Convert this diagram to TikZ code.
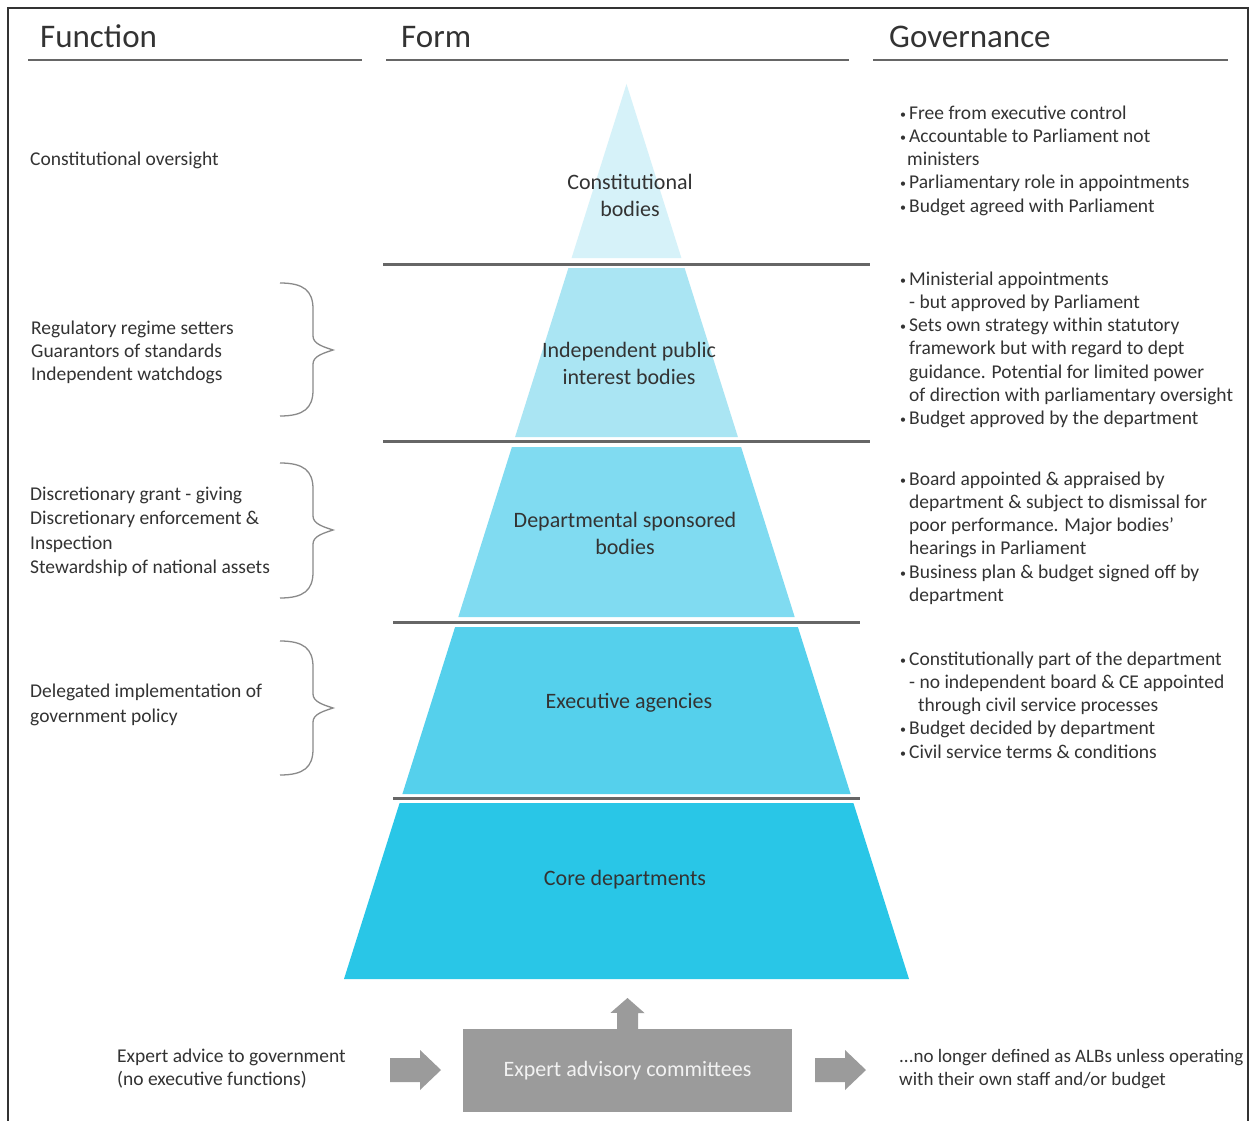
\documentclass[tikz,border=0pt]{standalone}
\usepackage{fontspec}
\setmainfont{Carlito}
\definecolor{txt}{HTML}{333333}
\definecolor{rulec}{HTML}{666666}
\definecolor{frame}{HTML}{333333}
\definecolor{lay1}{HTML}{D6F2F9}
\definecolor{lay2}{HTML}{AAE5F3}
\definecolor{lay3}{HTML}{80DBF1}
\definecolor{lay4}{HTML}{55D0EC}
\definecolor{lay5}{HTML}{29C6E7}
\definecolor{arrc}{HTML}{9B9B9B}
\definecolor{bracec}{HTML}{8A8A8A}
\newcommand{\bl}{\makebox[9pt][l]{\raisebox{1pt}{\fontsize{12}{12}\selectfont•}}}
\newcommand{\ct}{\makebox[9pt]{}}
\begin{document}
\begin{tikzpicture}[x=1pt,y=-1pt,
  head/.style={font=\fontsize{33}{36}\selectfont, text=txt, inner sep=0, anchor=base west},
  body/.style={font=\fontsize{19.5}{23.3}\selectfont, text=txt, align=left, inner sep=0, anchor=base west},
  plabel/.style={font=\fontsize{22}{27}\selectfont, text=txt, align=center, inner sep=0},
  hrule/.style={draw=rulec, line width=2.5pt},
  sep/.style={draw=rulec, line width=3pt},
  bracepath/.style={draw=bracec, line width=1.3pt},
  blockarrow/.style={fill=arrc, draw=none}]
\useasboundingbox (0,0) rectangle (1251,1121);
\fill[white] (0,0) rectangle (1251,1121);
% frame
\draw[frame, line width=1.5pt] (8,1121) -- (8,8) -- (1248,8) -- (1248,1121);

% headers
\node[head] (hfun) at (40,48) {Function};
\node[head] (hform) at (401,48) {Form};
\node[head] (hgov) at (889,48) {Governance};
\draw[hrule] (28,60) -- (362,60);
\draw[hrule] (386,60) -- (849,60);
\draw[hrule] (873,60) -- (1228,60);

% pyramid layers (centre x = 626.5)
\fill[lay1] (626.5,84) -- (681.4,258) -- (571.6,258) -- cycle;
\fill[lay2] (568.4,268) -- (684.6,268) -- (737.9,437) -- (515.1,437) -- cycle;
\fill[lay3] (511.9,447) -- (741.1,447) -- (794.7,617) -- (458.3,617) -- cycle;
\fill[lay4] (455.1,627) -- (797.9,627) -- (850.6,794) -- (402.4,794) -- cycle;
\fill[lay5] (399.6,803) -- (853.4,803) -- (909,979) -- (344,979) -- cycle;

% separators
\draw[sep] (383,264) -- (870,264);
\draw[sep] (383,441) -- (870,441);
\draw[sep] (393,622) -- (860,622);
\draw[sep] (393,798) -- (860,798);

% pyramid labels
\node[plabel] (l1) at (630,195.5) {Constitutional\\bodies};
\node[plabel] (l2) at (629,363) {Independent public\\interest bodies};
\node[plabel] (l3) at (625,533) {Departmental sponsored\\bodies};
\node[plabel] (l4) at (629,703) {Executive agencies};
\node[plabel] (l5) at (625,880) {Core departments};

% function column (anchor = baseline of last line)
\node[body] (f1) at (30,166) {Constitutional oversight};
\node[body] (f2) at (31,380.6) {Regulatory regime setters\\Guarantors of standards\\Independent watchdogs};
\node[body, font=\fontsize{19.5}{24.6}\selectfont] (f3) at (30,573.8) {Discretionary grant - giving\\Discretionary enforcement \&\\Inspection\\Stewardship of national assets};
\node[body, font=\fontsize{19.5}{25}\selectfont] (f4) at (30,722) {Delegated implementation of\\government policy};

% braces
\foreach \ya/\ym/\yb in {283/350/416, 463/530/598, 641/708/775}{
  \draw[bracepath] (280,\ya) .. controls (304,\ya) and (313,\ya+8) .. (313,\ya+26)
    -- (313,\ym-14) .. controls (313,\ym-6) and (324,\ym-3) .. (333,\ym)
    .. controls (324,\ym+3) and (313,\ym+6) .. (313,\ym+14)
    -- (313,\yb-26) .. controls (313,\yb-8) and (304,\yb) .. (280,\yb);
}

% governance column (anchor = baseline of last line)
\node[body] (g1) at (900,212.2) {\bl Free from executive control\\\bl Accountable to Parliament not\\\makebox[7pt]{}ministers\\\bl Parliamentary role in appointments\\\bl Budget agreed with Parliament};
\node[body] (g2) at (900,424.8) {\bl Ministerial appointments\\\ct - but approved by Parliament\\\bl Sets own strategy within statutory\\\ct framework but with regard to dept\\\ct guidance. Potential for limited power\\\ct of direction with parliamentary oversight\\\bl Budget approved by the department};
\node[body] (g3) at (900,601.5) {\bl Board appointed \& appraised by\\\ct department \& subject to dismissal for\\\ct poor performance. Major bodies’\\\ct hearings in Parliament\\\bl Business plan \& budget signed off by\\\ct department};
\node[body] (g4) at (900,758.2) {\bl Constitutionally part of the department\\\ct - no independent board \& CE appointed\\\ct\makebox[9pt]{}through civil service processes\\\bl Budget decided by department\\\bl Civil service terms \& conditions};

% bottom row
\node[body] (eleft) at (117,1085.3) {Expert advice to government\\(no executive functions)};
\node[body, font=\fontsize{19}{23.3}\selectfont] (eright) at (899,1085.3) {...no longer defined as ALBs unless operating\\with their own staff and/or budget};
\node[fill=arrc, minimum width=329pt, minimum height=83pt, inner sep=0, text=white!95!black,
      font=\fontsize{22}{26}\selectfont] (eac) at (627.5,1070.5) {Expert advisory committees};
% up arrow
\fill[blockarrow] (eac.north) ++(-10.5,0) -- ++(0,-16) -- ++(-6.5,0) -- (627.5,998) -- (644.5,1013) -- (638,1013) -- (638,1029) -- cycle;
% side arrows
\fill[blockarrow] (390,1058) -- (420,1058) -- (420,1050) -- (441,1070) -- (420,1090) -- (420,1082) -- (390,1082) -- cycle;
\fill[blockarrow] (815,1058) -- (845,1058) -- (845,1050) -- (866,1070) -- (845,1090) -- (845,1082) -- (815,1082) -- cycle;
\end{tikzpicture}
\end{document}
